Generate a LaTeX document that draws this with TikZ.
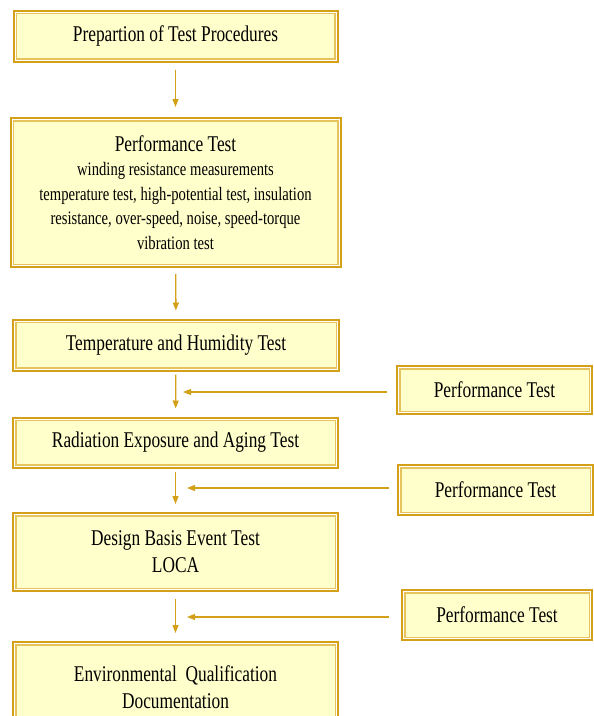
\documentclass[tikz,border=0pt]{standalone}
\usepackage{fontspec}
\setmainfont{Liberation Serif}[FakeStretch=0.77]
\usetikzlibrary{arrows.meta}

\definecolor{goldD}{HTML}{D4A017}
\definecolor{goldL}{HTML}{E6C35C}
\definecolor{cream}{HTML}{FFFFCC}

\tikzset{
  stage/.style={draw=goldD, line width=2pt, fill=cream, align=center,
    inner sep=0pt, font=\fontsize{22.5}{27}\selectfont,
    path picture={
      \draw[white, line width=1pt]
        ([shift={(1.5pt,-1.5pt)}]path picture bounding box.north west) rectangle
        ([shift={(-1.5pt,1.5pt)}]path picture bounding box.south east);
      \draw[goldL, line width=1.5pt]
        ([shift={(2.75pt,-2.75pt)}]path picture bounding box.north west) rectangle
        ([shift={(-2.75pt,2.75pt)}]path picture bounding box.south east);
    }},
  flow/.style={goldD, line width=1.3pt, -{Triangle[length=8pt,width=6pt]}}
}
\newcommand{\smalltxt}{\fontsize{19}{24}\selectfont}

\begin{document}
\begin{tikzpicture}[x=1pt,y=-1pt]
  \clip (0,0) rectangle (594,716);

  % main column
  \node[stage, minimum width=324pt, minimum height=51pt] (prep) at (175.5,36) {Prepartion of Test Procedures};
  \node[stage, minimum width=330pt, minimum height=149pt] (perf) at (175.5,192.5)
    {Performance Test\\[-3pt]
     {\smalltxt winding resistance measurements}\\[-2.5pt]
     {\smalltxt temperature test, high-potential test, insulation}\\[-2.5pt]
     {\smalltxt resistance, over-speed, noise, speed-torque}\\[-2.5pt]
     {\smalltxt vibration test}};
  \node[stage, minimum width=326pt, minimum height=51pt] (temp) at (176,345) {Temperature and Humidity Test};
  \node[stage, minimum width=325pt, minimum height=50pt] (rad) at (175.5,442.5) {Radiation Exposure and Aging Test};
  \node[stage, minimum width=325pt, minimum height=78pt] (dbe) at (175.5,552) {Design Basis Event Test\\LOCA};
  \node[stage, minimum width=325pt, minimum height=90pt] (eq) at (175.5,687) {Environmental~ Qualification\\Documentation};

  % side tests
  \node[stage, minimum width=195pt, minimum height=48pt] (ptA) at (494.5,390) {Performance Test};
  \node[stage, minimum width=195pt, minimum height=50pt] (ptB) at (495.5,490) {Performance Test};
  \node[stage, minimum width=190pt, minimum height=50pt] (ptC) at (497,615) {Performance Test};

  \draw[flow, shorten <=7pt, shorten >=10pt] (prep) -- (perf);
  \draw[flow, shorten <=6pt, shorten >=8pt] (perf) -- (temp);
  \draw[flow, shorten <=3pt, shorten >=8pt] (temp) -- (rad);
  \draw[flow, shorten <=3pt, shorten >=8pt] (rad) -- (dbe);
  \draw[flow, shorten <=7pt, shorten >=8pt] (dbe) -- (eq);

  \coordinate (inA) at (183,392);
  \coordinate (inB) at (187,488);
  \coordinate (inC) at (187,617);
  \draw[flow] (ptA.west |- inA) ++(-9pt,0) -- (inA);
  \draw[flow] (ptB.west |- inB) ++(-8pt,0) -- (inB);
  \draw[flow] (ptC.west |- inC) ++(-12pt,0) -- (inC);
\end{tikzpicture}
\end{document}
